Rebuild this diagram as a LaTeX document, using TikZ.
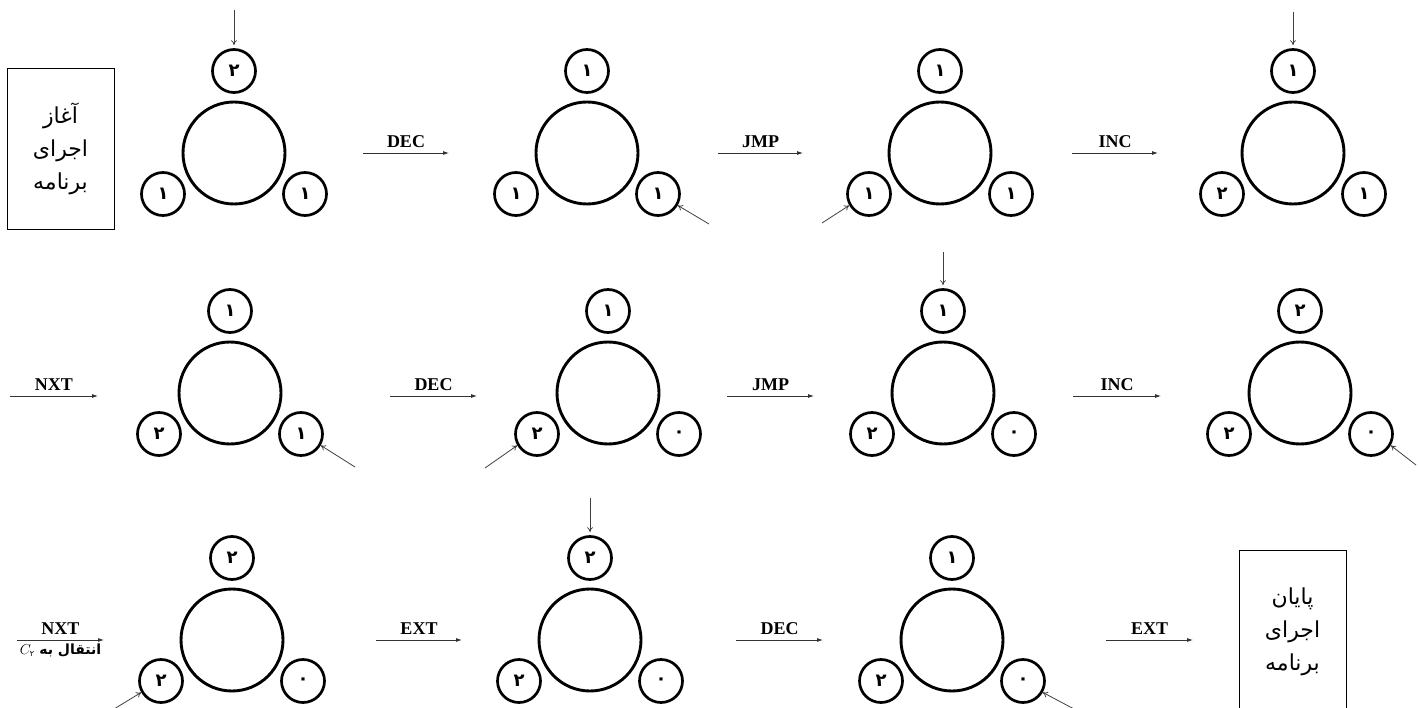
\documentclass[tikz,border=0pt]{standalone}
\usepackage{fontspec}
\usetikzlibrary{arrows.meta}
\TeXXeTstate=1
\newfontfamily\arabicfont[Script=Arabic]{DejaVu Sans}
\newfontfamily\labfont{Liberation Serif}
\newcommand\mycluster[6]{%
  \node[big] (#1) at (#2,#3) {};
  \node[small] (#1t) at (#2,#3-82) {#4};
  \node[small] (#1l) at (#2-71,#3+41) {#5};
  \node[small] (#1r) at (#2+71,#3+41) {#6};
}
\begin{document}
\begin{tikzpicture}[x=1pt,y=-1pt,
  big/.style={circle,draw,line width=2.9pt,minimum size=102pt,inner sep=0pt},
  small/.style={circle,draw,line width=2.7pt,minimum size=43pt,inner sep=0pt,
    font=\arabicfont\bfseries\fontsize{18}{18}\selectfont},
  op/.style={-{Latex[length=6pt,width=4pt]},line width=0.8pt,draw=black!80},
  ptr/.style={-{To[length=5pt,width=6pt]},line width=0.8pt,draw=black!75},
  oplab/.style={above,inner sep=5pt,font=\labfont\bfseries\fontsize{18}{18}\selectfont},
  subl/.style={below,inner sep=3pt,font=\fontsize{14}{14}\selectfont},
  txtbox/.style={draw,line width=0.8pt,align=center,inner sep=0pt,
    font=\arabicfont\fontsize{22}{33}\selectfont}]
\useasboundingbox (0,0) rectangle (1419,708);

% boxes
\node[txtbox,minimum width=107pt,minimum height=161pt] (start) at (60.5,148.5)
  {\beginR آغاز\endR\\ \beginR اجرای\endR\\ \beginR برنامه\endR};
\node[txtbox,minimum width=107pt,minimum height=164pt] (end) at (1292.5,632)
  {\beginR پایان\endR\\ \beginR اجرای\endR\\ \beginR برنامه\endR};

% row 1
\mycluster{ca}{234}{153}{۲}{۱}{۱}
\mycluster{cb}{587}{153}{۱}{۱}{۱}
\mycluster{cc}{940}{153}{۱}{۱}{۱}
\mycluster{cd}{1293}{153}{۱}{۲}{۱}
% row 2
\mycluster{ce}{230}{393}{۱}{۲}{۱}
\mycluster{cf}{608}{393}{۱}{۲}{۰}
\mycluster{cg}{943}{393}{۱}{۲}{۰}
\mycluster{ch}{1300}{393}{۲}{۲}{۰}
% row 3
\mycluster{ci}{232}{640}{۲}{۲}{۰}
\mycluster{cj}{590}{640}{۲}{۲}{۰}
\mycluster{ck}{952}{640}{۱}{۲}{۰}

% pointer arrows
\coordinate (pa) at (234,10);
\draw[ptr] (pa) -- ([yshift=3pt]cat.north);
\coordinate (pb) at (709,224);
\draw[ptr] (pb) -- (cbr.-30);
\coordinate (pc) at (822,223);
\draw[ptr] (pc) -- (ccl.210);
\coordinate (pd) at (1293,12);
\draw[ptr] (pd) -- ([yshift=3pt]cdt.north);
\coordinate (pe) at (355,467);
\draw[ptr] (pe) -- (cer.-30);
\coordinate (pf) at (485,468);
\draw[ptr] (pf) -- (cfl.210);
\coordinate (pg) at (943,252);
\draw[ptr] (pg) -- ([yshift=3pt]cgt.north);
\coordinate (ph) at (1416,465);
\draw[ptr] (ph) -- (chr.-30);
\coordinate (pi) at (114,709);
\draw[ptr] (pi) -- (cil.210);
\coordinate (pj) at (590,498);
\draw[ptr] (pj) -- ([yshift=3pt]cjt.north);
\coordinate (pk) at (1074,709);
\draw[ptr] (pk) -- (ckr.-30);

% operation arrows
\coordinate (o1s) at (363,153); \coordinate (o1e) at (449,153);
\draw[op] (o1s) -- node[oplab] (l1) {DEC} (o1e);
\coordinate (o2s) at (718,153); \coordinate (o2e) at (803,153);
\draw[op] (o2s) -- node[oplab] (l2) {JMP} (o2e);
\coordinate (o3s) at (1072,153); \coordinate (o3e) at (1158,153);
\draw[op] (o3s) -- node[oplab] (l3) {INC} (o3e);

\coordinate (o4s) at (10,396); \coordinate (o4e) at (98,396);
\draw[op] (o4s) -- node[oplab] (l4) {NXT} (o4e);
\coordinate (o5s) at (390,396); \coordinate (o5e) at (477,396);
\draw[op] (o5s) -- node[oplab] (l5) {DEC} (o5e);
\coordinate (o6s) at (727,396); \coordinate (o6e) at (814,396);
\draw[op] (o6s) -- node[oplab] (l6) {JMP} (o6e);
\coordinate (o7s) at (1073,396); \coordinate (o7e) at (1161,396);
\draw[op] (o7s) -- node[oplab] (l7) {INC} (o7e);

\coordinate (o8s) at (17,640); \coordinate (o8e) at (104,640);
\draw[op] (o8s) -- node[oplab] (l8) {NXT}
  node[subl] (l8b) {$C_{\hbox{\arabicfont\fontsize{8}{8}\selectfont ۲}}$\ {\arabicfont\bfseries\beginR انتقال به\endR}} (o8e);
\coordinate (o9s) at (376,640); \coordinate (o9e) at (462,640);
\draw[op] (o9s) -- node[oplab] (l9) {EXT} (o9e);
\coordinate (o10s) at (736,640); \coordinate (o10e) at (823,640);
\draw[op] (o10s) -- node[oplab] (l10) {DEC} (o10e);
\coordinate (o11s) at (1106,640); \coordinate (o11e) at (1193,640);
\draw[op] (o11s) -- node[oplab] (l11) {EXT} (o11e);
\end{tikzpicture}
\end{document}
